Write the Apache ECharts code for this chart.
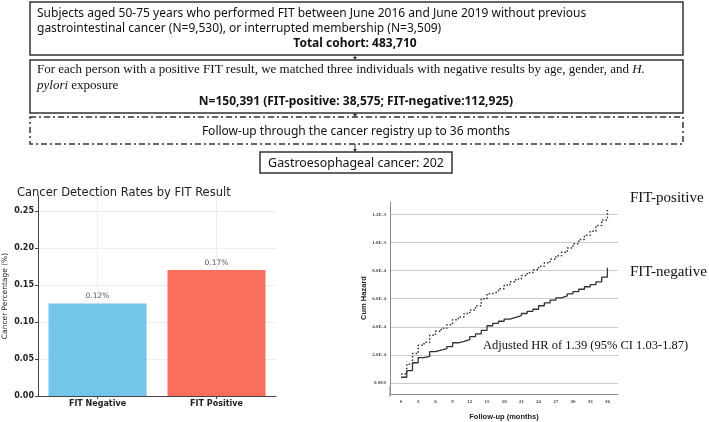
<!DOCTYPE html>
<html>
<head>
<meta charset="utf-8">
<script src="https://cdn.jsdelivr.net/npm/echarts@6/dist/echarts.min.js"></script>
<style>
  html, body { margin: 0; padding: 0; background: #fff; }
  #chart { width: 709px; height: 422px; }
</style>
</head>
<body>
<div id="chart"></div>
<script>
// bar panel
const barCategories = ['FIT Negative', 'FIT Positive'];
const barValues = [0.125, 0.17];
const barLabels = ['0.12%', '0.17%'];

// cumulative hazard panel
const months = [0, 1, 2, 3, 4, 5, 6, 7, 8, 9, 10, 11, 12, 13, 14, 15, 16, 17, 18,
  19, 20, 21, 22, 23, 24, 25, 26, 27, 28, 29, 30, 31, 32, 33, 34, 35, 36];
const hazardNeg = [4.2e-5, 8.9e-5, 1.45e-4, 1.82e-4, 1.9e-4, 2.24e-4, 2.35e-4, 2.45e-4, 2.6e-4,
  2.87e-4, 2.97e-4, 3.1e-4, 3.3e-4, 3.5e-4, 3.75e-4, 4.08e-4, 4.25e-4, 4.4e-4, 4.55e-4,
  4.68e-4, 4.8e-4, 4.95e-4, 5.1e-4, 5.25e-4, 5.5e-4, 5.7e-4, 5.9e-4, 6.06e-4, 6.2e-4,
  6.35e-4, 6.5e-4, 6.67e-4, 6.85e-4, 7.0e-4, 7.2e-4, 7.53e-4, 8.2e-4];
const hazardPos = [6.5e-5, 1.35e-4, 2.1e-4, 2.7e-4, 2.9e-4, 3.4e-4, 3.68e-4, 3.9e-4, 4.15e-4,
  4.5e-4, 4.7e-4, 4.95e-4, 5.2e-4, 5.5e-4, 6.0e-4, 6.36e-4, 6.5e-4, 6.7e-4, 6.95e-4,
  7.2e-4, 7.4e-4, 7.65e-4, 7.85e-4, 8.05e-4, 8.3e-4, 8.55e-4, 8.8e-4, 9.05e-4, 9.3e-4,
  9.6e-4, 9.9e-4, 1.02e-3, 1.05e-3, 1.08e-3, 1.12e-3, 1.16e-3, 1.23e-3];
const hazardYTicks = [0, 2e-4, 4e-4, 6e-4, 8e-4, 1e-3, 1.2e-3];
const hazardYLabels = ['0.0E0', '2.0E-4', '4.0E-4', '6.0E-4', '8.0E-4', '1.0E-3', '1.2E-3'];
const hazardXTicks = [0, 3, 6, 9, 12, 15, 18, 21, 24, 27, 30, 33, 36];

const sans = '"Noto Sans", sans-serif';
const serif = '"Liberation Serif", serif';
const dv = '"DejaVu Sans", sans-serif';

function box(x, y, w, h, dash) {
  return {
    type: 'rect', silent: true,
    shape: { x: x, y: y, width: w, height: h },
    style: { fill: 'none', stroke: '#333', lineWidth: 1.5, lineDash: dash || null }
  };
}
function txt(x, y, text, font, align, extra) {
  return {
    type: 'text', silent: true, x: x, y: y,
    style: Object.assign({ text: text, font: font, fill: '#111', align: align || 'left', verticalAlign: 'middle' }, extra || {})
  };
}
function arrow(x, y1, y2) {
  return [
    { type: 'line', silent: true, shape: { x1: x, y1: y1, x2: x, y2: y2 - 2 }, style: { stroke: '#333', lineWidth: 1 } },
    { type: 'polygon', silent: true, shape: { points: [[x - 2, y2 - 3], [x + 2, y2 - 3], [x, y2]] }, style: { fill: '#333' } }
  ];
}

const graphics = [
  box(30, 2, 653, 53),
  txt(37, 14, 'Subjects aged 50-75 years who performed FIT between June 2016 and June 2019 without previous', '12px ' + sans),
  txt(37, 29, 'gastrointestinal cancer (N=9,530), or interrupted membership (N=3,509)', '12px ' + sans),
  txt(355, 44, 'Total cohort: 483,710', 'bold 12px ' + sans, 'center'),
  ...arrow(355, 55, 60),
  box(30, 60, 653, 53),
  {
    type: 'text', silent: true, x: 37, y: 70,
    style: {
      text: '{n|For each person with a positive FIT result, we matched three individuals with negative results by age, gender, and }{i|H.}',
      verticalAlign: 'middle',
      rich: {
        n: { font: '13px ' + serif, fill: '#111' },
        i: { font: 'italic 13px ' + serif, fill: '#111' }
      }
    }
  },
  {
    type: 'text', silent: true, x: 37, y: 86,
    style: {
      text: '{i|pylori}{n| exposure}',
      verticalAlign: 'middle',
      rich: {
        n: { font: '13px ' + serif, fill: '#111' },
        i: { font: 'italic 13px ' + serif, fill: '#111' }
      }
    }
  },
  txt(356, 102, 'N=150,391 (FIT-positive: 38,575; FIT-negative:112,925)', 'bold 12px ' + sans, 'center'),
  ...arrow(355, 113, 117),
  box(30, 117, 653, 27, [6, 3, 2, 3]),
  txt(356, 132, 'Follow-up through the cancer registry up to 36 months', '12px ' + sans, 'center'),
  ...arrow(355, 144, 152),
  box(260, 152, 192, 21),
  txt(356, 163, 'Gastroesophageal cancer: 202', '12.4px ' + sans, 'center'),
  txt(630, 198, 'FIT-positive', '15px ' + serif),
  txt(630, 272, 'FIT-negative', '15px ' + serif),
  txt(483, 346, 'Adjusted HR of 1.39 (95% CI 1.03-1.87)', '12.5px ' + serif),
  { type: 'line', silent: true, shape: { x1: 390, y1: 386, x2: 390, y2: 397 }, style: { stroke: '#888', lineWidth: 1 } },
  { type: 'rect', silent: true, shape: { x: 424, y: 211, width: 58, height: 5 }, style: { fill: '#fff' } }
];

const chart = echarts.init(document.getElementById('chart'), null, { renderer: 'canvas' });

chart.setOption({
  animation: false,
  backgroundColor: '#fff',
  title: {
    text: 'Cancer Detection Rates by FIT Result',
    left: 12, top: 182,
    textStyle: { fontFamily: dv, fontSize: 11.5, fontWeight: 'normal', color: '#222' }
  },
  grid: [
    { left: 34, right: 433, top: 196, bottom: 26 },
    { left: 390, right: 91, top: 202, bottom: 25 }
  ],
  xAxis: [
    {
      gridIndex: 0, type: 'category', data: barCategories,
      axisLine: { lineStyle: { color: '#444', width: 1 } },
      axisTick: { show: true, alignWithLabel: true, length: 3, lineStyle: { color: '#444' } },
      axisLabel: { fontFamily: dv, fontSize: 8, color: '#222', fontWeight: 'bold', margin: 4 },
      splitLine: { show: true, alignWithLabel: true, lineStyle: { color: '#eee', width: 1 } }
    },
    {
      gridIndex: 1, type: 'value', min: -1.92, max: 37.85,
      axisLine: { onZero: false, lineStyle: { color: '#888', width: 1 } },
      axisTick: { show: false, customValues: hazardXTicks },
      axisLabel: { customValues: hazardXTicks, fontFamily: serif, fontSize: 5, fontWeight: 'bold', color: '#444', margin: 5 },
      splitLine: { show: false },
      name: 'Follow-up (months)', nameLocation: 'middle', nameGap: 19,
      nameTextStyle: { fontFamily: '"Liberation Sans", sans-serif', fontSize: 7.5, fontWeight: 'bold', color: '#222' }
    }
  ],
  yAxis: [
    {
      gridIndex: 0, type: 'value', min: 0, max: 0.27, interval: 0.05,
      axisLine: { show: true, lineStyle: { color: '#444', width: 1 } },
      axisTick: { show: true, length: 3, lineStyle: { color: '#444' } },
      axisLabel: {
        fontFamily: dv, fontSize: 8, color: '#222', fontWeight: 'bold', margin: 4,
        showMaxLabel: false,
        formatter: v => v.toFixed(2)
      },
      splitLine: { show: true, showMaxLine: false, lineStyle: { color: '#eee', width: 1 } },
      name: 'Cancer Percentage (%)', nameLocation: 'middle', nameGap: 29, nameRotate: 90,
      nameTextStyle: { fontFamily: dv, fontSize: 7.5, color: '#222' }
    },
    {
      gridIndex: 1, type: 'value', min: -7.7e-5, max: 1.287e-3,
      axisLine: { show: true, onZero: false, lineStyle: { color: '#888', width: 1 } },
      axisTick: { show: false, customValues: hazardYTicks },
      axisLabel: {
        customValues: hazardYTicks, fontFamily: serif, fontSize: 5, fontWeight: 'bold', color: '#444', margin: 4,
        formatter: v => hazardYLabels[hazardYTicks.findIndex(t => Math.abs(t - v) < 1e-9)]
      },
      splitLine: { show: true, lineStyle: { color: '#ccc', width: 1.2 } },
      name: 'Cum Hazard', nameLocation: 'middle', nameGap: 22, nameRotate: 90,
      nameTextStyle: { fontFamily: '"Liberation Sans", sans-serif', fontSize: 7.5, fontWeight: 'bold', color: '#222' }
    }
  ],
  series: [
    {
      type: 'bar', xAxisIndex: 0, yAxisIndex: 0, barWidth: 98,
      data: barValues.map((v, i) => ({
        value: v,
        itemStyle: { color: ['#72C6E8', '#F96F5E'][i] },
        label: { formatter: barLabels[i] }
      })),
      label: { show: true, position: 'top', distance: 3, fontFamily: dv, fontSize: 7.5, color: '#555' }
    },
    {
      type: 'line', xAxisIndex: 1, yAxisIndex: 1, step: 'end', showSymbol: false,
      data: months.map((m, i) => [m, hazardNeg[i]]),
      lineStyle: { color: '#333', width: 1.3, type: 'solid' }
    },
    {
      type: 'line', xAxisIndex: 1, yAxisIndex: 1, step: 'end', showSymbol: false,
      data: months.map((m, i) => [m, hazardPos[i]]),
      lineStyle: { color: '#333', width: 1.5, type: [1.5, 2] }
    }
  ],
  graphic: graphics
});
</script>
</body>
</html>
